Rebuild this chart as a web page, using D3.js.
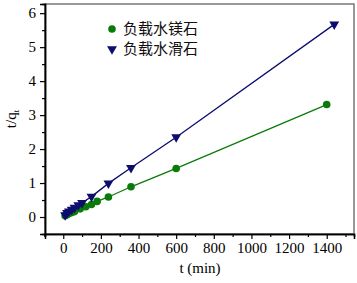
<!DOCTYPE html>
<html>
<head>
<meta charset="utf-8">
<script src="https://cdn.jsdelivr.net/npm/d3@7"></script>
<style>
  body { margin: 0; background: #fff; }
  svg { display: block; }
  svg text { font-family: "Liberation Serif", "Times New Roman", "DejaVu Serif", serif; }
</style>
</head>
<body>
<div id="chart"></div>
<script>
// series data
const seriesNames = ["负载水镁石", "负载水滑石"];
const brucTime = [10, 20, 30, 45, 60, 90, 120, 150, 180, 240, 360, 600, 1400];
const brucVal = [0.04, 0.07, 0.10, 0.13, 0.16, 0.24, 0.30, 0.37, 0.46, 0.59, 0.89, 1.43, 3.31];
const hydroTime = [10, 20, 30, 45, 60, 80, 100, 150, 240, 360, 600, 1440];
const hydroVal = [0.06, 0.12, 0.17, 0.22, 0.28, 0.35, 0.42, 0.60, 0.99, 1.45, 2.35, 5.67];
const xTicks = [0, 200, 400, 600, 800, 1000, 1200, 1400];
const yTicks = [0, 1, 2, 3, 4, 5, 6];

const W = 357, H = 283;
const mLeft = 45, mRight = 354, mTop = 4, mBottom = 234;

const svg = d3.select("#chart").append("svg")
  .attr("width", W)
  .attr("height", H);

const x = d3.scaleLinear().domain([-97, 1545]).range([mLeft, mRight]);
const y = d3.scaleLinear().domain([-0.5, 6.27]).range([mBottom, mTop]);

// frame (top / right in gray)
svg.append("rect")
  .attr("x", mLeft).attr("y", mTop)
  .attr("width", mRight - mLeft).attr("height", mBottom - mTop)
  .attr("fill", "none")
  .attr("stroke", "#777")
  .attr("stroke-width", 1.5);

// x axis
svg.append("g")
  .attr("transform", `translate(0,${mBottom})`)
  .call(d3.axisBottom(x).tickValues(xTicks).tickSize(5).tickPadding(3).tickFormat(d3.format("d")));
svg.append("g")
  .attr("transform", `translate(0,${mBottom})`)
  .call(d3.axisBottom(x).tickValues(d3.range(-100, 1501, 100).filter(v => v % 200 !== 0)).tickSize(3).tickFormat(""));

// y axis
svg.append("g")
  .attr("transform", `translate(${mLeft},0)`)
  .call(d3.axisLeft(y).tickValues(yTicks).tickSize(5).tickPadding(4).tickFormat(d3.format("d")));
svg.append("g")
  .attr("transform", `translate(${mLeft},0)`)
  .call(d3.axisLeft(y).tickValues([0.5, 1.5, 2.5, 3.5, 4.5, 5.5]).tickSize(3).tickFormat(""));

svg.selectAll(".domain").attr("stroke", "#000").attr("stroke-width", 1.5);
svg.selectAll(".tick line").attr("stroke", "#000").attr("stroke-width", 1.2);
svg.selectAll(".tick text")
  .style("font-size", "15px")
  .attr("fill", "#000");

// axis labels
svg.append("text")
  .attr("x", 200).attr("y", 273)
  .attr("text-anchor", "middle")
  .style("font-size", "15px")
  .text("t (min)");

const yl = svg.append("text")
  .attr("transform", `translate(16,${(mTop + mBottom) / 2}) rotate(-90)`)
  .attr("text-anchor", "middle")
  .style("font-size", "15px");
yl.append("tspan").text("t/q");
yl.append("tspan").attr("dy", 3).style("font-size", "9px").text("t");

// series
const brucData = brucTime.map((t, i) => ({ t, v: brucVal[i] }));
const hydroData = hydroTime.map((t, i) => ({ t, v: hydroVal[i] }));

const line = d3.line().x(d => x(d.t)).y(d => y(d.v));
const green = "#0a7a0a", navy = "#0d0d6e";

svg.append("path").datum(brucData)
  .attr("d", line).attr("fill", "none")
  .attr("stroke", green).attr("stroke-width", 1.3);
svg.append("path").datum(hydroData)
  .attr("d", line).attr("fill", "none")
  .attr("stroke", navy).attr("stroke-width", 1.3);

svg.append("g").selectAll("circle")
  .data(brucData).join("circle")
  .attr("cx", d => x(d.t)).attr("cy", d => y(d.v))
  .attr("r", 3.8).attr("fill", green);

const tri = d3.symbol().type(d3.symbolTriangle).size(42);
svg.append("g").selectAll("path")
  .data(hydroData).join("path")
  .attr("d", tri)
  .attr("transform", d => `translate(${x(d.t)},${y(d.v)}) rotate(180)`)
  .attr("fill", navy);

// legend
const legend = svg.append("g").attr("transform", "translate(112,29)");
legend.append("circle").attr("cx", 0).attr("cy", 0).attr("r", 3.8).attr("fill", green);
legend.append("path").attr("d", tri).attr("transform", "translate(0,20) rotate(180)").attr("fill", navy);
seriesNames.forEach((name, i) => {
  legend.append("text")
    .attr("x", 11).attr("y", i * 20)
    .attr("dy", "0.35em")
    .style("font-family", "'Noto Sans CJK SC', sans-serif")
    .style("font-size", "15px")
    .attr("fill", "#111")
    .text(name);
});
</script>
</body>
</html>
